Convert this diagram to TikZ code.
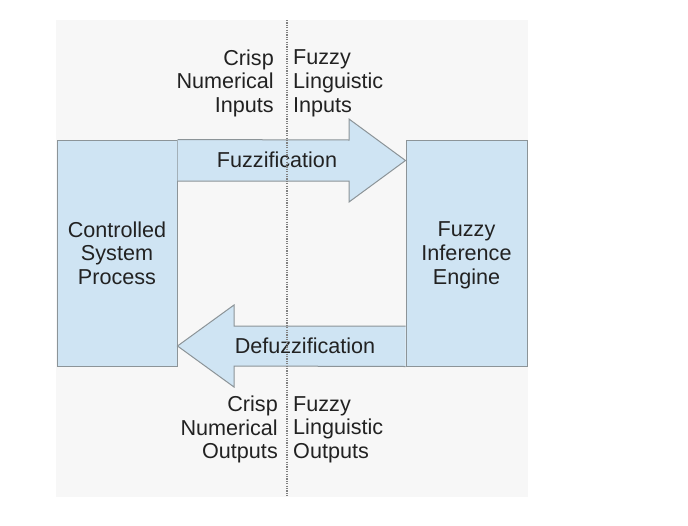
\documentclass[tikz,border=0pt]{standalone}
\usepackage{fontspec}
\setmainfont{Liberation Sans}
\definecolor{boxblue}{RGB}{207,228,243}
\definecolor{linegray}{RGB}{140,148,152}
\definecolor{bggray}{RGB}{247,247,247}
\definecolor{inkgray}{RGB}{34,34,34}
% last line without descender depth
\newcommand{\nodepth}[1]{\raisebox{0pt}[\height][0pt]{#1}}
\tikzset{
  block/.style={draw=linegray, fill=boxblue, line width=1pt, align=center,
    minimum width=120pt, minimum height=226pt, inner sep=0pt},
  fatarrow/.style={draw=linegray, fill=boxblue, line width=1pt, line join=miter},
  sidetext/.style={inner sep=0pt},
}
\begin{document}
\begin{tikzpicture}[x=1pt, y=-1pt, font=\fontsize{21.6}{23.6}\selectfont, text=inkgray]
\useasboundingbox (0,0) rectangle (688,525);
\fill[bggray] (56,20) rectangle (528,497);
\node[block] (proc) at (117,253) {Controlled\\System\\Process};
\node[block, minimum width=121pt] (engine) at (466.5,253) {Fuzzy\\Inference\\\nodepth{Engine}};

\draw[fatarrow] (proc.north east) -- (349,140) -- (349,119) -- (engine.west |- 0,160.5)
   -- (349,202) -- (349,181) -- (proc.east |- 0,181);
\draw[fatarrow] (engine.west |- 0,326) -- (234,326) -- (234,305) -- (proc.east |- 0,346)
   -- (234,387) -- (234,366) -- (engine.south west);
\node (fuzz) at (277,160) {Fuzzification};
\node (defuzz) at (305,346) {Defuzzification};

\node[sidetext, align=right, anchor=east] (crispin) at (274,81) {Crisp\\Numerical\\\nodepth{Inputs}};
\node[sidetext, align=left, anchor=west] (fuzzyin) at (293,81) {Fuzzy\\Linguistic\\\nodepth{Inputs}};
\node[sidetext, align=right, anchor=east] (crispout) at (278,427.5) {Crisp\\Numerical\\\nodepth{Outputs}};
\node[sidetext, align=left, anchor=west] (fuzzyout) at (293,427.5) {Fuzzy\\Linguistic\\\nodepth{Outputs}};

\draw[gray, line width=1.2pt, dash pattern=on 1.2pt off 1.2pt] (287,20) -- (287,497);
\end{tikzpicture}
\end{document}
